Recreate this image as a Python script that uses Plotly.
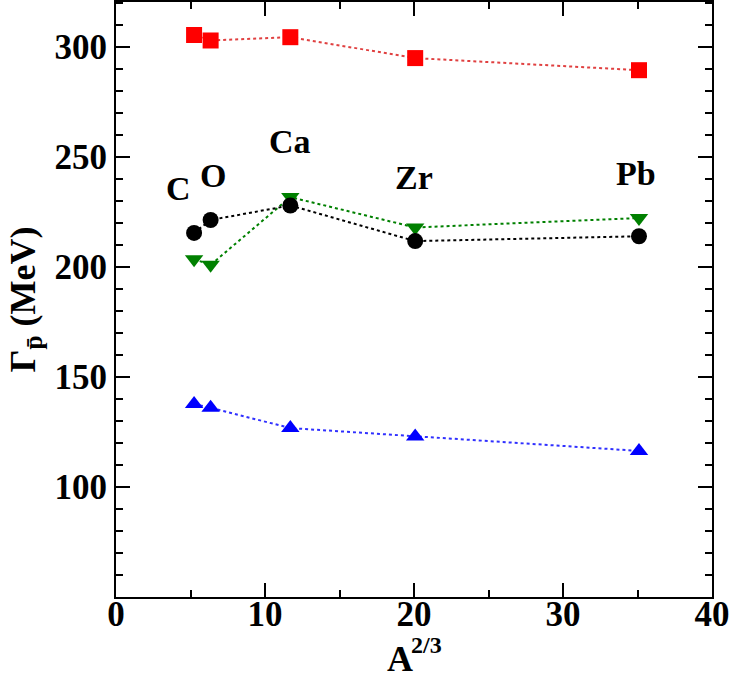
import plotly.graph_objects as go

nuclei = ["C", "O", "Ca", "Zr", "Pb"]
a23 = [5.24, 6.35, 11.70, 20.08, 35.10]
red_sq = [305.5, 303.0, 304.5, 295.0, 289.5]
black_circ = [215.5, 221.4, 228.0, 211.8, 214.0]
green_tri = [203.6, 201.0, 231.8, 218.0, 222.3]
blue_tri = [137.7, 136.0, 126.8, 123.0, 116.4]
label_x = [4.2, 6.5, 11.65, 20.0, 34.9]
label_y = [235.5, 241.4, 257.0, 240.5, 242.7]

font = "Liberation Serif"
fig = go.Figure()

series = [
    (red_sq, "#ff0000", "square", "#e04040"),
    (green_tri, "#008000", "triangle-down", "#008000"),
    (black_circ, "#000000", "circle", "#000000"),
    (blue_tri, "#0000ff", "triangle-up", "#3030ff"),
]
for ys, col, sym, lcol in series:
    fig.add_trace(go.Scatter(
        x=a23, y=ys, mode="lines+markers",
        line=dict(color=lcol, width=2, dash="dot"),
        marker=dict(color=col, symbol=sym, size=16, line=dict(width=0)),
        showlegend=False,
    ))

for name, lx, ly in zip(nuclei, label_x, label_y):
    fig.add_annotation(x=lx, y=ly, text=f"<b>{name}</b>", showarrow=False,
                       font=dict(family=font, size=34, color="black"))

# x-axis title: A with superscript 2/3
fig.add_annotation(xref="paper", yref="paper", x=0.4765, y=-0.067, xanchor="center", yanchor="top",
                   text="<b>A</b>", showarrow=False, font=dict(family=font, size=36, color="black"))
fig.add_annotation(xref="paper", yref="paper", x=0.5218, y=-0.055, xanchor="center", yanchor="top",
                   text="<b>2/3</b>", showarrow=False, font=dict(family=font, size=24, color="black"))

axis_common = dict(
    showline=True, linecolor="black", linewidth=2, mirror="ticks",
    ticks="inside", ticklen=14, tickwidth=2, tickcolor="black",
    showgrid=False, zeroline=False, automargin=False,
    tickfont=dict(family=font, size=35, color="black"),
)

fig.update_xaxes(range=[0, 40], tickvals=[0, 10, 20, 30, 40],
                 ticktext=["<b>0</b>", "<b>10</b>", "<b>20</b>", "<b>30</b>", "<b>40</b>"],
                 minor=dict(dtick=5, tick0=0, ticks="inside", ticklen=7, tickwidth=2, tickcolor="black"),
                 ticklabelstandoff=-15,
                 **axis_common)
fig.update_yaxes(range=[50, 320.5], tickvals=[100, 150, 200, 250, 300],
                 ticktext=["<b>100</b>", "<b>150</b>", "<b>200</b>", "<b>250</b>", "<b>300</b>"],
                 minor=dict(dtick=10, tick0=0, ticks="inside", ticklen=7, tickwidth=2, tickcolor="black"),
                 title=dict(text="<b>Γ<sub>p\u0304</sub> (MeV)</b>", font=dict(family=font, size=36, color="black"), standoff=8),
                 **axis_common)

fig.update_layout(
    width=730, height=679,
    margin=dict(l=116, r=18, t=2, b=82),
    plot_bgcolor="white", paper_bgcolor="white",
)

fig.write_html("out.html", config={"displayModeBar": False},
               post_script="document.body.style.margin='0';document.body.style.overflow='hidden';")
